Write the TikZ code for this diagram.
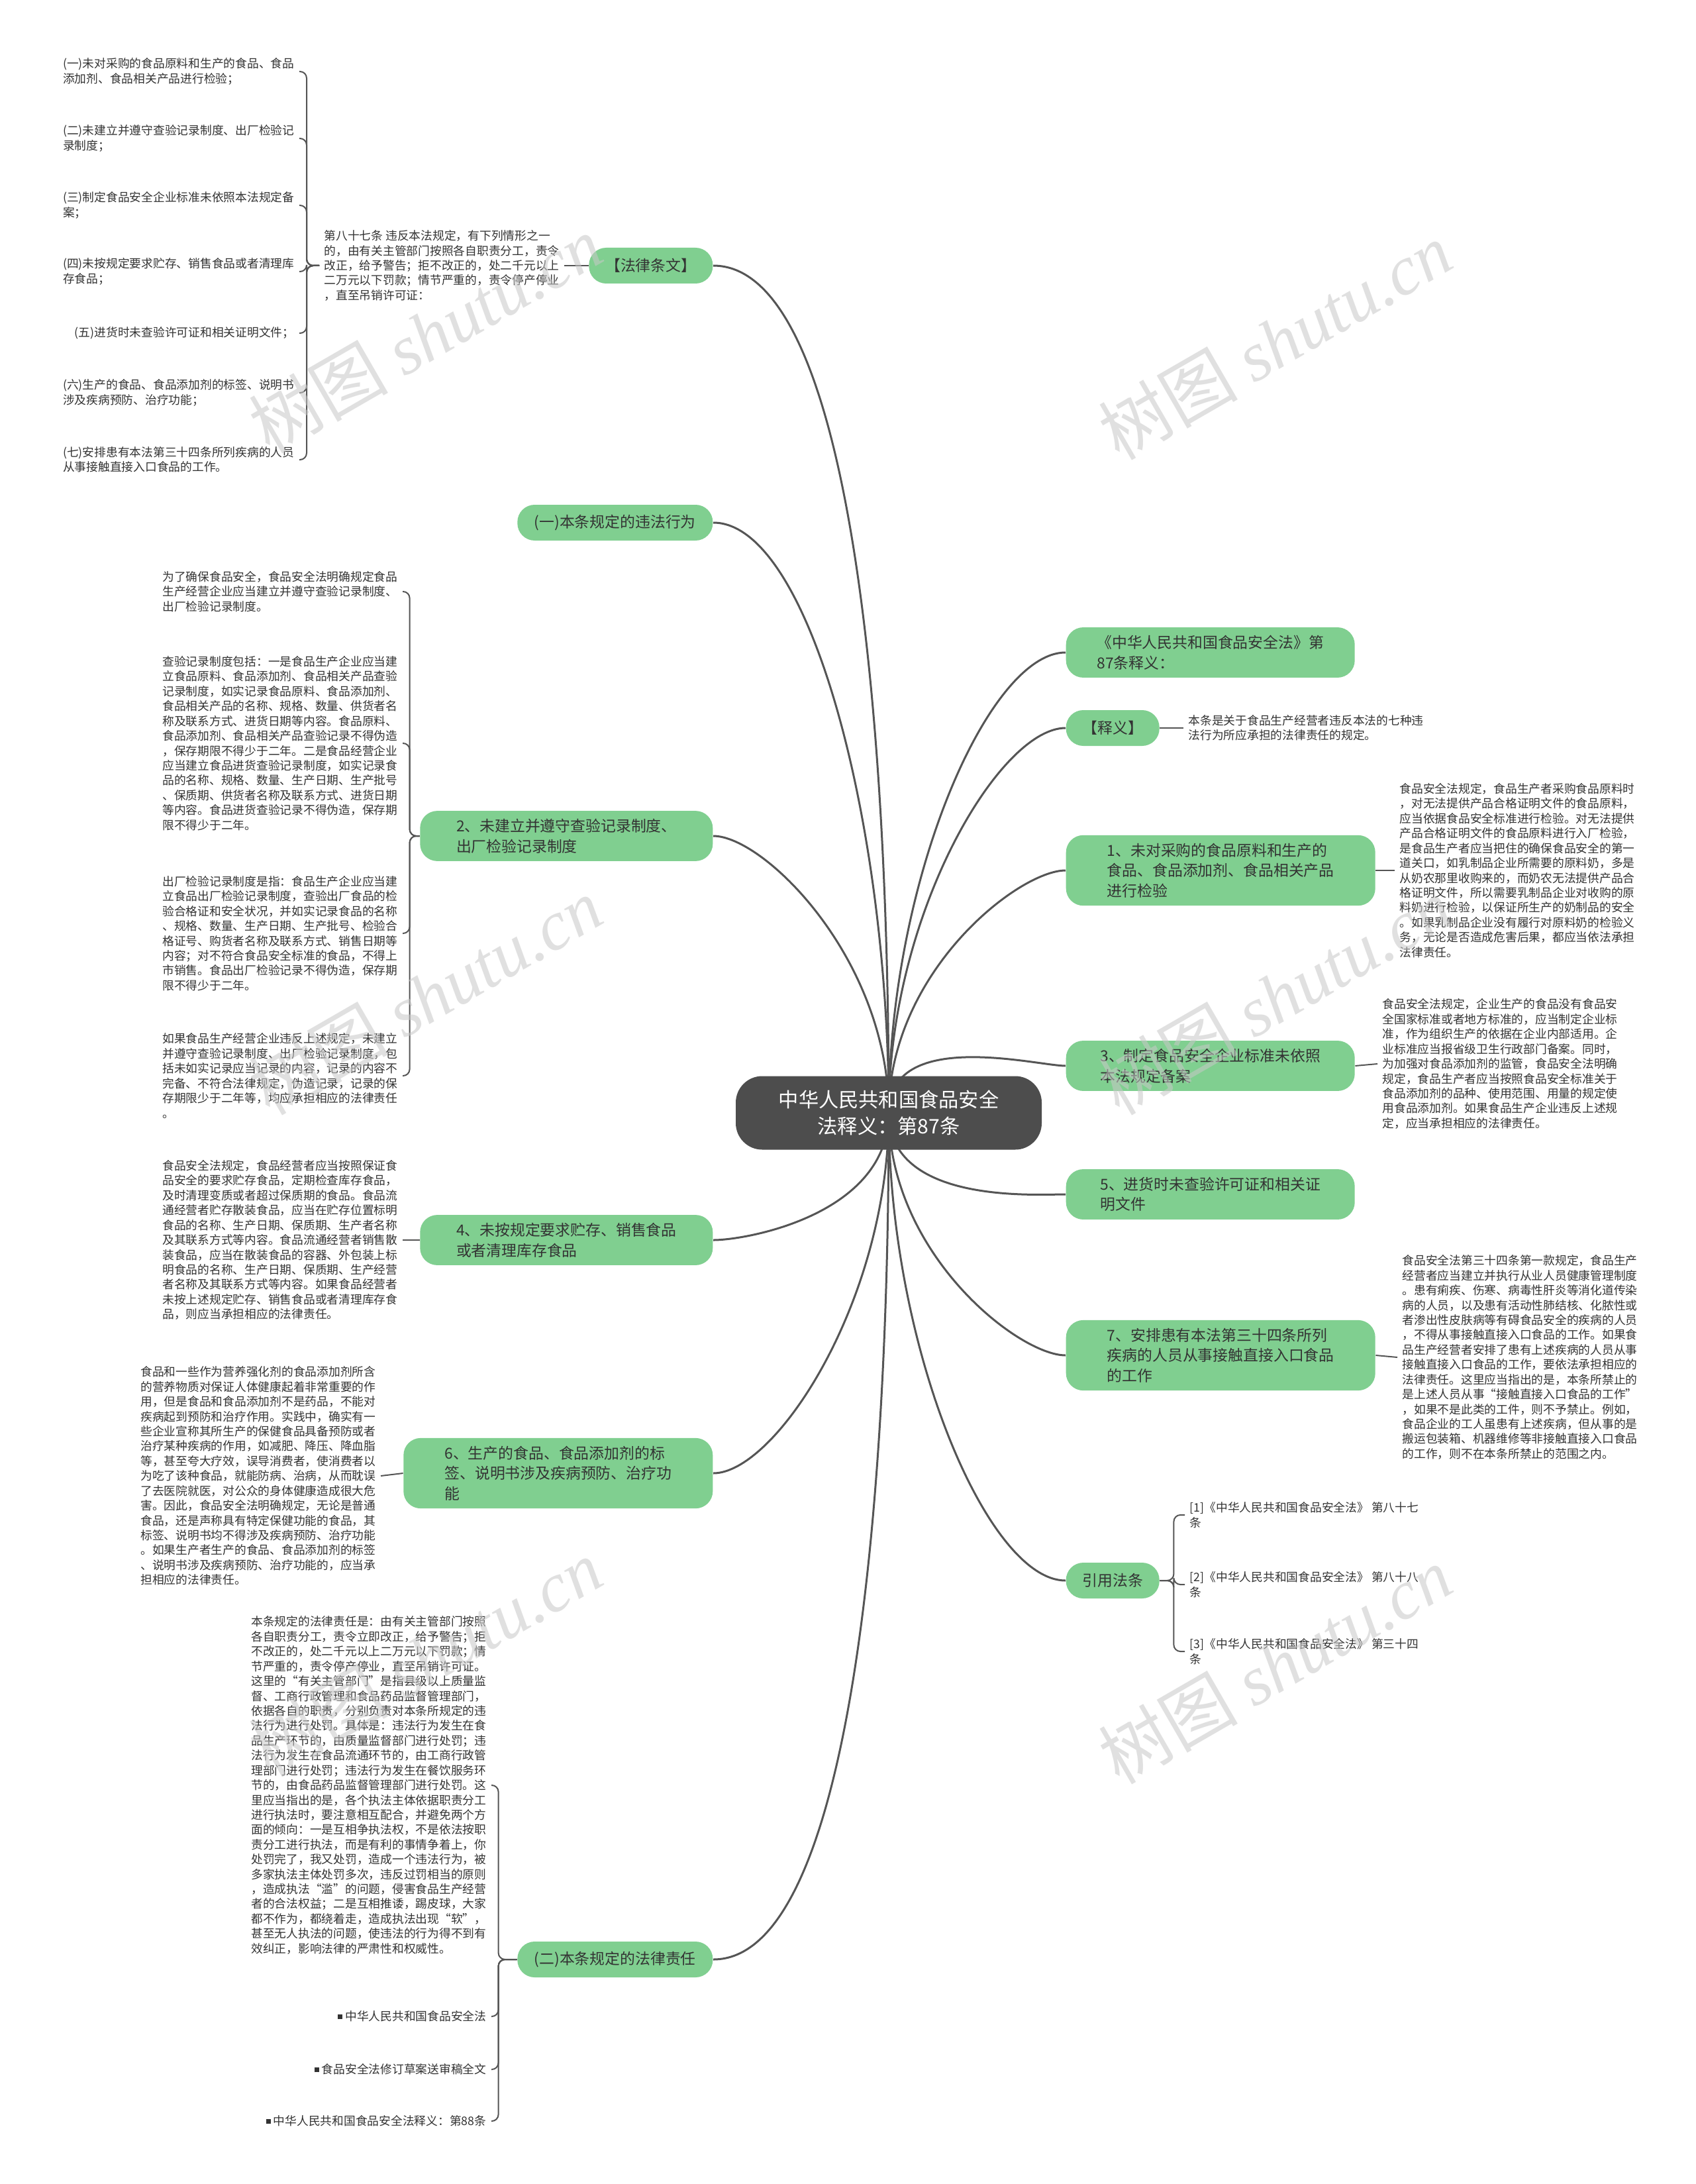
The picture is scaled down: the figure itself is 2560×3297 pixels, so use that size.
\documentclass[tikz,border=0pt]{standalone}
\usepackage{fontspec}
\setmainfont{Noto Sans CJK SC}
\newfontfamily\wmlatin{Liberation Serif}
\usepackage{tikz}
\usetikzlibrary{positioning,calc,backgrounds}
\usepackage{xcolor}
\definecolor{rootgray}{HTML}{4D4D4D}
\definecolor{leafgreen}{HTML}{80CF90}
\definecolor{linegray}{HTML}{555555}
\definecolor{txtgray}{HTML}{333333}
\definecolor{wmgray}{HTML}{C8C8C8}
\newcommand{\sqbullet}{\raisebox{0.25mm}{\rule{0.7mm}{0.7mm}}\ }

\begin{document}
\begin{tikzpicture}[x=0.1mm,y=-0.1mm,
  root/.style={rectangle,rounded corners=4mm,fill=rootgray,text=white,font=\fontsize{8.6pt}{11.4pt}\selectfont,align=center,minimum width=46.2mm,minimum height=11.1mm},
  topic/.style={rectangle,rounded corners=2.6mm,fill=leafgreen,text=txtgray,font=\fontsize{6.5pt}{8.7pt}\selectfont,align=left,inner ysep=1.2mm,minimum height=5.4mm},
  note/.style={text=txtgray,font=\fontsize{5.05pt}{6.38pt}\selectfont,align=left,inner xsep=0.7mm,inner ysep=0pt},
  link/.style={draw=linegray,line width=0.3mm},
  curvy/.style={out looseness=1.2,in looseness=0.4},
  brace/.style={draw=linegray,line width=0.2mm,rounded corners=1mm},
  wmark/.style={text=wmgray,rotate=30,opacity=0.55,font=\fontsize{30pt}{30pt}\selectfont}]
\useasboundingbox (0,0) rectangle (2560,3297);

% centre
\node[root] (root) at (1342,1680) {中华人民共和国食品安全\\法释义：第87条};

% left branches
\node[topic,anchor=east,minimum width=18.7mm] (tiaowen) at (1077,401) {【法律条文】};
\node[topic,anchor=east,minimum width=29.5mm] (weifa) at (1077,789) {(一)本条规定的违法行为};
\node[topic,anchor=east,minimum width=44.2mm] (jilu) at (1077,1262) {2、未建立并遵守查验记录制度、\\出厂检验记录制度};
\node[topic,anchor=east,minimum width=44.2mm] (zhucun) at (1077,1872) {4、未按规定要求贮存、销售食品\\或者清理库存食品};
\node[topic,anchor=east,minimum width=46.7mm] (biaoqian) at (1077,2224) {6、生产的食品、食品添加剂的标\\签、说明书涉及疾病预防、治疗功\\能};
\node[topic,anchor=east,minimum width=29.5mm] (zeren) at (1077,2958) {(二)本条规定的法律责任};

% right branches
\node[topic,anchor=west,minimum width=43.6mm] (shiyi87) at (1609,985) {《中华人民共和国食品安全法》第\\87条释义：};
\node[topic,anchor=west,minimum width=14.1mm] (shiyi) at (1609,1099) {【释义】};
\node[topic,anchor=west,minimum width=46.7mm] (jianyan) at (1609,1314) {1、未对采购的食品原料和生产的\\食品、食品添加剂、食品相关产品\\进行检验};
\node[topic,anchor=west,minimum width=43.6mm] (beian) at (1609,1609) {3、制定食品安全企业标准未依照\\本法规定备案};
\node[topic,anchor=west,minimum width=43.6mm] (xuke) at (1609,1803) {5、进货时未查验许可证和相关证\\明文件};
\node[topic,anchor=west,minimum width=46.7mm] (jiankang) at (1609,2046) {7、安排患有本法第三十四条所列\\疾病的人员从事接触直接入口食品\\的工作};
\node[topic,anchor=west,minimum width=14.1mm] (yinyong) at (1609,2386) {引用法条};

% article text and its seven items
\node[note,anchor=west] (tiaowentxt) at (482,401) {第八十七条 违反本法规定，有下列情形之一\\的，由有关主管部门按照各自职责分工，责令\\改正，给予警告；拒不改正的，处二千元以上\\二万元以下罚款；情节严重的，责令停产停业\\，直至吊销许可证：};
\node[note,anchor=east] (item1) at (452,108) {(一)未对采购的食品原料和生产的食品、食品\\添加剂、食品相关产品进行检验；};
\node[note,anchor=east] (item2) at (452,209) {(二)未建立并遵守查验记录制度、出厂检验记\\录制度；};
\node[note,anchor=east] (item3) at (452,310) {(三)制定食品安全企业标准未依照本法规定备\\案；};
\node[note,anchor=east] (item4) at (452,410) {(四)未按规定要求贮存、销售食品或者清理库\\存食品；};
\node[note,anchor=east] (item5) at (452,503) {(五)进货时未查验许可证和相关证明文件；};
\node[note,anchor=east] (item6) at (452,593) {(六)生产的食品、食品添加剂的标签、说明书\\涉及疾病预防、治疗功能；};
\node[note,anchor=east] (item7) at (452,694) {(七)安排患有本法第三十四条所列疾病的人员\\从事接触直接入口食品的工作。};

% notes of 2
\node[note,anchor=east] (jilu1) at (608,893) {为了确保食品安全，食品安全法明确规定食品\\生产经营企业应当建立并遵守查验记录制度、\\出厂检验记录制度。};
\node[note,anchor=east] (jilu2) at (608,1122) {查验记录制度包括：一是食品生产企业应当建\\立食品原料、食品添加剂、食品相关产品查验\\记录制度，如实记录食品原料、食品添加剂、\\食品相关产品的名称、规格、数量、供货者名\\称及联系方式、进货日期等内容。食品原料、\\食品添加剂、食品相关产品查验记录不得伪造\\，保存期限不得少于二年。二是食品经营企业\\应当建立食品进货查验记录制度，如实记录食\\品的名称、规格、数量、生产日期、生产批号\\、保质期、供货者名称及联系方式、进货日期\\等内容。食品进货查验记录不得伪造，保存期\\限不得少于二年。};
\node[note,anchor=east] (jilu3) at (608,1409) {出厂检验记录制度是指：食品生产企业应当建\\立食品出厂检验记录制度，查验出厂食品的检\\验合格证和安全状况，并如实记录食品的名称\\、规格、数量、生产日期、生产批号、检验合\\格证号、购货者名称及联系方式、销售日期等\\内容；对不符合食品安全标准的食品，不得上\\市销售。食品出厂检验记录不得伪造，保存期\\限不得少于二年。};
\node[note,anchor=east] (jilu4) at (608,1624) {如果食品生产经营企业违反上述规定，未建立\\并遵守查验记录制度、出厂检验记录制度，包\\括未如实记录应当记录的内容，记录的内容不\\完备、不符合法律规定，伪造记录，记录的保\\存期限少于二年等，均应承担相应的法律责任\\。};

% note of 4
\node[note,anchor=east] (zhucuntxt) at (608,1872) {食品安全法规定，食品经营者应当按照保证食\\品安全的要求贮存食品，定期检查库存食品，\\及时清理变质或者超过保质期的食品。食品流\\通经营者贮存散装食品，应当在贮存位置标明\\食品的名称、生产日期、保质期、生产者名称\\及其联系方式等内容。食品流通经营者销售散\\装食品，应当在散装食品的容器、外包装上标\\明食品的名称、生产日期、保质期、生产经营\\者名称及其联系方式等内容。如果食品经营者\\未按上述规定贮存、销售食品或者清理库存食\\品，则应当承担相应的法律责任。};

% note of 6
\node[note,anchor=east] (biaoqiantxt) at (575,2228) {食品和一些作为营养强化剂的食品添加剂所含\\的营养物质对保证人体健康起着非常重要的作\\用，但是食品和食品添加剂不是药品，不能对\\疾病起到预防和治疗作用。实践中，确实有一\\些企业宣称其所生产的保健食品具备预防或者\\治疗某种疾病的作用，如减肥、降压、降血脂\\等，甚至夸大疗效，误导消费者，使消费者以\\为吃了该种食品，就能防病、治病，从而耽误\\了去医院就医，对公众的身体健康造成很大危\\害。因此，食品安全法明确规定，无论是普通\\食品，还是声称具有特定保健功能的食品，其\\标签、说明书均不得涉及疾病预防、治疗功能\\。如果生产者生产的食品、食品添加剂的标签\\、说明书涉及疾病预防、治疗功能的，应当承\\担相应的法律责任。};

% notes of (二)
\node[note,anchor=east] (zerentxt) at (742,2695) {本条规定的法律责任是：由有关主管部门按照\\各自职责分工，责令立即改正，给予警告；拒\\不改正的，处二千元以上二万元以下罚款；情\\节严重的，责令停产停业，直至吊销许可证。\\这里的“有关主管部门”是指县级以上质量监\\督、工商行政管理和食品药品监督管理部门，\\依据各自的职责，分别负责对本条所规定的违\\法行为进行处罚。具体是：违法行为发生在食\\品生产环节的，由质量监督部门进行处罚；违\\法行为发生在食品流通环节的，由工商行政管\\理部门进行处罚；违法行为发生在餐饮服务环\\节的，由食品药品监督管理部门进行处罚。这\\里应当指出的是，各个执法主体依据职责分工\\进行执法时，要注意相互配合，并避免两个方\\面的倾向：一是互相争执法权，不是依法按职\\责分工进行执法，而是有利的事情争着上，你\\处罚完了，我又处罚，造成一个违法行为，被\\多家执法主体处罚多次，违反过罚相当的原则\\，造成执法“滥”的问题，侵害食品生产经营\\者的合法权益；二是互相推诿，踢皮球，大家\\都不作为，都绕着走，造成执法出现“软”，\\甚至无人执法的问题，使违法的行为得不到有\\效纠正，影响法律的严肃性和权威性。};
\node[note,anchor=east] (ref1) at (742,3044) {\sqbullet 中华人民共和国食品安全法};
\node[note,anchor=east] (ref2) at (742,3124) {\sqbullet 食品安全法修订草案送审稿全文};
\node[note,anchor=east] (ref3) at (742,3202) {\sqbullet 中华人民共和国食品安全法释义：第88条};

% right notes
\node[note,anchor=west] (shiyitxt) at (1787,1099) {本条是关于食品生产经营者违反本法的七种违\\法行为所应承担的法律责任的规定。};
\node[note,anchor=west] (jianyantxt) at (2106,1314) {食品安全法规定，食品生产者采购食品原料时\\，对无法提供产品合格证明文件的食品原料，\\应当依据食品安全标准进行检验。对无法提供\\产品合格证明文件的食品原料进行入厂检验，\\是食品生产者应当把住的确保食品安全的第一\\道关口，如乳制品企业所需要的原料奶，多是\\从奶农那里收购来的，而奶农无法提供产品合\\格证明文件，所以需要乳制品企业对收购的原\\料奶进行检验，以保证所生产的奶制品的安全\\。如果乳制品企业没有履行对原料奶的检验义\\务，无论是否造成危害后果，都应当依法承担\\法律责任。};
\node[note,anchor=west] (beiantxt) at (2080,1606) {食品安全法规定，企业生产的食品没有食品安\\全国家标准或者地方标准的，应当制定企业标\\准，作为组织生产的依据在企业内部适用。企\\业标准应当报省级卫生行政部门备案。同时，\\为加强对食品添加剂的监管，食品安全法明确\\规定，食品生产者应当按照食品安全标准关于\\食品添加剂的品种、使用范围、用量的规定使\\用食品添加剂。如果食品生产企业违反上述规\\定，应当承担相应的法律责任。};
\node[note,anchor=west] (jiankangtxt) at (2110,2049) {食品安全法第三十四条第一款规定，食品生产\\经营者应当建立并执行从业人员健康管理制度\\。患有痢疾、伤寒、病毒性肝炎等消化道传染\\病的人员，以及患有活动性肺结核、化脓性或\\者渗出性皮肤病等有碍食品安全的疾病的人员\\，不得从事接触直接入口食品的工作。如果食\\品生产经营者安排了患有上述疾病的人员从事\\接触直接入口食品的工作，要依法承担相应的\\法律责任。这里应当指出的是，本条所禁止的\\是上述人员从事“接触直接入口食品的工作”\\，如果不是此类的工件，则不予禁止。例如，\\食品企业的工人虽患有上述疾病，但从事的是\\搬运包装箱、机器维修等非接触直接入口食品\\的工作，则不在本条所禁止的范围之内。};
\node[note,anchor=west] (fa1) at (1789,2287) {[1]《中华人民共和国食品安全法》 第八十七\\条};
\node[note,anchor=west] (fa2) at (1789,2392) {[2]《中华人民共和国食品安全法》 第八十八\\条};
\node[note,anchor=west] (fa3) at (1789,2493) {[3]《中华人民共和国食品安全法》 第三十四\\条};

% brackets and short links
\draw[brace] (tiaowen.west) -- (tiaowentxt.east);
\draw[brace] (tiaowentxt.west) -- ++(-19,0) |- (item1.east);
\draw[brace] (tiaowentxt.west) -- ++(-19,0) |- (item2.east);
\draw[brace] (tiaowentxt.west) -- ++(-19,0) |- (item3.east);
\draw[brace] (tiaowentxt.west) -- ++(-19,0) |- (item4.east);
\draw[brace] (tiaowentxt.west) -- ++(-19,0) |- (item5.east);
\draw[brace] (tiaowentxt.west) -- ++(-19,0) |- (item6.east);
\draw[brace] (tiaowentxt.west) -- ++(-19,0) |- (item7.east);
\draw[brace] (jilu.west) -- ++(-15,0) |- (jilu1.east);
\draw[brace] (jilu.west) -- ++(-15,0) |- (jilu2.east);
\draw[brace] (jilu.west) -- ++(-15,0) |- (jilu3.east);
\draw[brace] (jilu.west) -- ++(-15,0) |- (jilu4.east);
\draw[brace] (zhucun.west) -- (zhucuntxt.east);
\draw[brace] (biaoqian.west) -- (biaoqiantxt.east);
\draw[brace] (zeren.west) -- ++(-28,0) |- (zerentxt.east);
\draw[brace] (zeren.west) -- ++(-28,0) |- (ref1.east);
\draw[brace] (zeren.west) -- ++(-28,0) |- (ref2.east);
\draw[brace] (zeren.west) -- ++(-28,0) |- (ref3.east);
\draw[brace] (shiyi.east) -- (shiyitxt.west);
\draw[brace] (jianyan.east) -- (jianyantxt.west);
\draw[brace] (beian.east) -- (beiantxt.west);
\draw[brace] (jiankang.east) -- (jiankangtxt.west);
\draw[brace] (yinyong.east) -- ++(21,0) |- (fa1.west);
\draw[brace] (yinyong.east) -- ++(21,0) |- (fa2.west);
\draw[brace] (yinyong.east) -- ++(21,0) |- (fa3.west);

% main branches behind the nodes
\begin{scope}[on background layer]
\fill[white] (0,0) rectangle (2560,3297);
\draw[link] (root.center) to[out=90,in=0,curvy] (tiaowen.east);
\draw[link] (root.center) to[out=90,in=0,curvy] (weifa.east);
\draw[link] (root.center) to[out=90,in=0,curvy] (jilu.east);
\draw[link] (root.center) to[out=-90,in=0,curvy] (zhucun.east);
\draw[link] (root.center) to[out=-90,in=0,curvy] (biaoqian.east);
\draw[link] (root.center) to[out=-90,in=0,curvy] (zeren.east);
\draw[link] (root.center) to[out=90,in=180,curvy] (shiyi87.west);
\draw[link] (root.center) to[out=90,in=180,curvy] (shiyi.west);
\draw[link] (root.center) to[out=90,in=180,curvy] (jianyan.west);
\draw[link] (root.center) to[out=90,in=180,curvy] (beian.west);
\draw[link] (root.center) to[out=-90,in=180,curvy] (xuke.west);
\draw[link] (root.center) to[out=-90,in=180,curvy] (jiankang.west);
\draw[link] (root.center) to[out=-90,in=180,curvy] (yinyong.west);
\end{scope}

% watermarks
\node[wmark] (wm1) at (642,505) {树图 {\wmlatin\itshape shutu.cn}};
\node[wmark] (wm2) at (1925,515) {树图 {\wmlatin\itshape shutu.cn}};
\node[wmark] (wm3) at (642,1504) {树图 {\wmlatin\itshape shutu.cn}};
\node[wmark] (wm4) at (1925,1504) {树图 {\wmlatin\itshape shutu.cn}};
\node[wmark] (wm5) at (642,2503) {树图 {\wmlatin\itshape shutu.cn}};
\node[wmark] (wm6) at (1925,2514) {树图 {\wmlatin\itshape shutu.cn}};
\end{tikzpicture}
\end{document}
